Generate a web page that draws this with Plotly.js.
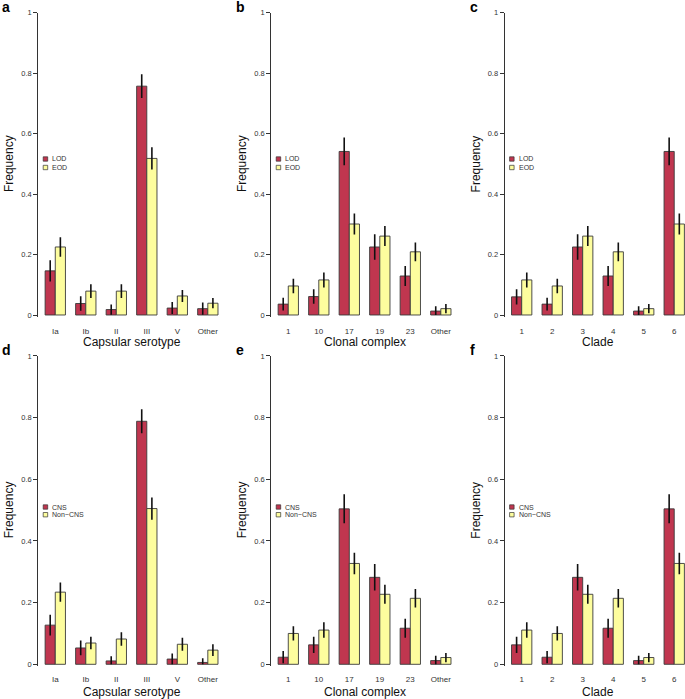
<!DOCTYPE html>
<html>
<head>
<meta charset="utf-8">
<script src="https://cdn.plot.ly/plotly-3.0.1.min.js"></script>
<style>
  html, body { margin: 0; padding: 0; background: #fff; }
  #chart { width: 685px; height: 699px; }
</style>
</head>
<body>
<div id="chart"></div>
<script>
// categories
const serotypes = ['Ia', 'Ib', 'II', 'III', 'V', 'Other'];
const complexes = ['1', '10', '17', '19', '23', 'Other'];
const clades = ['1', '2', '3', '4', '5', '6'];

// row 1 : LOD vs EOD
const lodSero = [0.146, 0.038, 0.018, 0.757, 0.023, 0.021];
const lodSeroErr = [0.035, 0.024, 0.017, 0.039, 0.020, 0.020];
const eodSero = [0.225, 0.079, 0.079, 0.518, 0.063, 0.039];
const eodSeroErr = [0.032, 0.023, 0.023, 0.037, 0.020, 0.017];

const lodCC = [0.036, 0.061, 0.541, 0.225, 0.129, 0.013];
const lodCCErr = [0.021, 0.024, 0.046, 0.042, 0.033, 0.016];
const eodCC = [0.096, 0.116, 0.301, 0.261, 0.209, 0.021];
const eodCCErr = [0.024, 0.025, 0.035, 0.033, 0.031, 0.015];

const lodClade = [0.060, 0.036, 0.225, 0.129, 0.013, 0.541];
const lodCladeErr = [0.025, 0.021, 0.042, 0.033, 0.016, 0.046];
const eodClade = [0.116, 0.096, 0.261, 0.209, 0.021, 0.301];
const eodCladeErr = [0.025, 0.024, 0.033, 0.031, 0.015, 0.035];

// row 2 : CNS vs Non-CNS
const cnsSero = [0.127, 0.053, 0.011, 0.788, 0.017, 0.006];
const cnsSeroErr = [0.034, 0.024, 0.015, 0.039, 0.018, 0.014];
const nonSero = [0.234, 0.069, 0.082, 0.505, 0.065, 0.046];
const nonSeroErr = [0.031, 0.020, 0.022, 0.036, 0.021, 0.019];

const cnsCC = [0.023, 0.063, 0.504, 0.282, 0.117, 0.012];
const cnsCCErr = [0.020, 0.026, 0.047, 0.043, 0.031, 0.016];
const nonCC = [0.100, 0.111, 0.327, 0.227, 0.214, 0.022];
const nonCCErr = [0.023, 0.025, 0.035, 0.031, 0.030, 0.015];

const cnsClade = [0.063, 0.023, 0.282, 0.117, 0.012, 0.504];
const cnsCladeErr = [0.026, 0.020, 0.043, 0.031, 0.016, 0.047];
const nonClade = [0.111, 0.100, 0.227, 0.214, 0.022, 0.327];
const nonCladeErr = [0.025, 0.023, 0.031, 0.030, 0.015, 0.035];

const yTicks = [0, 0.2, 0.4, 0.6, 0.8, 1];
const yTickText = ['0', '0.2', '0.4', '0.6', '0.8', '1'];

const W = 685, H = 699;
const RED = '#c0364f', YEL = '#fdfd9e';
const FONT = 'Liberation Sans, Arial, Helvetica, sans-serif';

function px(x) { return x / W; }
function py(y) { return 1 - y / H; }

// pixel geometry of the panels (left edge, right edge, range end)
const cols = [
  {L: 38.2, R: 224.9, xmax: 5.56},
  {L: 271.2, R: 457.9, xmax: 5.56},
  {L: 504.6, R: 685, xmax: 5.353}
];
const rows = [
  {top: 12.7, zero: 315, unit: 302.3, standoff: 8, titleY: 342, legY: [159, 167.5]},
  {top: 355.9, zero: 664.3, unit: 308.4, standoff: 7, titleY: 691.5, legY: [507, 514.7]}
];

const panels = [
  {letter: 'a', cats: serotypes, title: 'Capsular serotype', names: ['LOD', 'EOD'], a: lodSero, ae: lodSeroErr, b: eodSero, be: eodSeroErr},
  {letter: 'b', cats: complexes, title: 'Clonal complex', names: ['LOD', 'EOD'], a: lodCC, ae: lodCCErr, b: eodCC, be: eodCCErr},
  {letter: 'c', cats: clades, title: 'Clade', names: ['LOD', 'EOD'], a: lodClade, ae: lodCladeErr, b: eodClade, be: eodCladeErr},
  {letter: 'd', cats: serotypes, title: 'Capsular serotype', names: ['CNS', 'Non\u2212CNS'], a: cnsSero, ae: cnsSeroErr, b: nonSero, be: nonSeroErr},
  {letter: 'e', cats: complexes, title: 'Clonal complex', names: ['CNS', 'Non\u2212CNS'], a: cnsCC, ae: cnsCCErr, b: nonCC, be: nonCCErr},
  {letter: 'f', cats: clades, title: 'Clade', names: ['CNS', 'Non\u2212CNS'], a: cnsClade, ae: cnsCladeErr, b: nonClade, be: nonCladeErr}
];

let data = [];
let layout = {
  width: W, height: H,
  margin: {l: 0, r: 0, t: 0, b: 0},
  paper_bgcolor: '#fff', plot_bgcolor: '#fff',
  barmode: 'group', bargap: 1 / 3, bargroupgap: 0,
  showlegend: false,
  font: {family: FONT, color: '#222'},
  annotations: [], shapes: []
};

function errBar(vals, err) {
  return {
    type: 'data', symmetric: false,
    array: err,
    arrayminus: err.map((e, i) => Math.min(e, vals[i])),
    color: '#111', thickness: 1.6, width: 0
  };
}

panels.forEach((p, i) => {
  const c = cols[i % 3], r = rows[Math.floor(i / 3)];
  const n = i === 0 ? '' : String(i + 1);
  const yBottom = r.zero + 0.005 * r.unit;

  layout['xaxis' + n] = {
    type: 'category', domain: [px(c.L), px(c.R)], range: [-0.56, c.xmax],
    anchor: 'y' + n, showline: false, showgrid: false, zeroline: false,
    ticks: '', ticklabelstandoff: r.standoff, tickfont: {size: 8, color: '#333'},
    fixedrange: true
  };
  layout['yaxis' + n] = {
    domain: [py(yBottom), py(r.top)], range: [-0.005, 1],
    anchor: 'x' + n, showline: true, linecolor: '#333', linewidth: 1,
    showgrid: false, zeroline: false, ticks: 'outside', ticklen: 4,
    tickcolor: '#333', tickwidth: 1,
    tickvals: yTicks, ticktext: yTickText, tickfont: {size: 7.5, color: '#333'},
    fixedrange: true
  };

  [[p.a, p.ae, RED, p.names[0]], [p.b, p.be, YEL, p.names[1]]].forEach(s => {
    data.push({
      type: 'bar', x: p.cats, y: s[0], name: s[3],
      xaxis: 'x' + n, yaxis: 'y' + n,
      marker: {color: s[2], line: {color: '#3a3a3a', width: 0.9}},
      error_y: errBar(s[0], s[1]),
      hoverinfo: 'x+y+name'
    });
  });

  // panel letter
  layout.annotations.push({
    xref: 'paper', yref: 'paper', x: px(c.L - 38 + (i % 3 === 0 ? 0 : 1)), y: py(r.top - 6),
    xanchor: 'left', yanchor: 'middle', showarrow: false,
    text: '<b>' + p.letter + '</b>', font: {size: 14, color: '#000', family: FONT}
  });
  // y title
  layout.annotations.push({
    xref: 'paper', yref: 'paper', x: px(c.L - 29), y: py((r.top + r.zero) / 2),
    xanchor: 'center', yanchor: 'middle', showarrow: false, textangle: -90,
    text: 'Frequency', font: {size: 12, color: '#111', family: FONT}
  });
  // x title
  layout.annotations.push({
    xref: 'paper', yref: 'paper', x: px(cols[i % 3].L + 93.5), y: py(r.titleY),
    xanchor: 'center', yanchor: 'middle', showarrow: false,
    text: p.title, font: {size: 12, color: '#111', family: FONT}
  });
  // legend
  [RED, YEL].forEach((col, k) => {
    const yc = r.legY[k];
    layout.shapes.push({
      type: 'rect', xref: 'paper', yref: 'paper',
      x0: px(c.L + 5), x1: px(c.L + 9.5), y0: py(yc + 2.2), y1: py(yc - 2.2),
      fillcolor: col, line: {color: '#333', width: 0.7}
    });
    layout.annotations.push({
      xref: 'paper', yref: 'paper', x: px(c.L + 12), y: py(yc),
      xanchor: 'left', yanchor: 'middle', showarrow: false,
      text: p.names[k], font: {size: 7, color: '#333', family: FONT}
    });
  });
});

Plotly.newPlot('chart', data, layout, {displayModeBar: false, staticPlot: true});
</script>
</body>
</html>
